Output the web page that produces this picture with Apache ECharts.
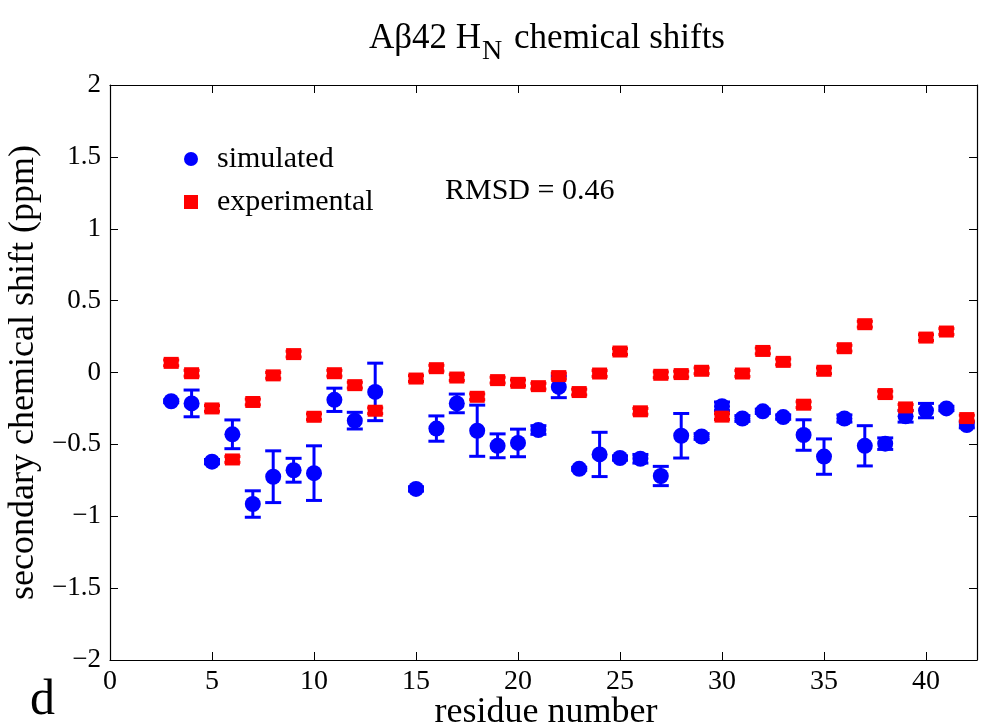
<!DOCTYPE html>
<html>
<head>
<meta charset="utf-8">
<script src="https://cdn.jsdelivr.net/npm/echarts@6/dist/echarts.min.js"></script>
<style>
  html, body { margin: 0; padding: 0; background: #fff; }
  #chart { width: 981px; height: 728px; }
</style>
</head>
<body>
<div id="chart"></div>
<script>
// residues (14 has no data)
const residues = [3,4,5,6,7,8,9,10,11,12,13,15,16,17,18,19,20,21,22,23,24,25,26,27,28,29,30,31,32,33,34,35,36,37,38,39,40,41,42];
const simValues = [-0.20,-0.215,-0.62,-0.43,-0.915,-0.725,-0.68,-0.70,-0.19,-0.335,-0.135,
  -0.81,-0.39,-0.215,-0.405,-0.51,-0.49,-0.40,-0.10,-0.67,-0.57,-0.595,-0.60,-0.72,-0.44,
  -0.445,-0.235,-0.32,-0.27,-0.31,-0.435,-0.585,-0.32,-0.51,-0.495,-0.305,-0.265,-0.25,-0.365];
const simErrors = [0.01,0.093,0.015,0.10,0.092,0.18,0.083,0.19,0.081,0.058,0.20,
  0.015,0.088,0.065,0.178,0.083,0.096,0.03,0.075,0.01,0.154,0.015,0.03,0.067,0.155,
  0.02,0.03,0.02,0.015,0.015,0.106,0.123,0.025,0.14,0.04,0.04,0.05,0.015,0.02];
const expValues = [0.067,-0.005,-0.25,-0.605,-0.205,-0.02,0.128,-0.308,-0.005,-0.088,-0.266,
  -0.042,0.03,-0.035,-0.169,-0.053,-0.072,-0.095,-0.025,-0.136,-0.007,0.146,-0.27,-0.016,-0.011,
  0.012,-0.307,-0.007,0.15,0.074,-0.224,0.012,0.169,0.336,-0.15,-0.243,0.243,0.285,-0.317];
const expErrors = residues.map(() => 0.02);

const xTicks = { min: 0, max: 42.5, interval: 5 };
const yTicks = { min: -2, max: 2, interval: 0.5 };

const FONT = 'Liberation Serif';

const simPoints = residues.map((r, i) => [r, simValues[i]]);
const expPoints = residues.map((r, i) => [r, expValues[i]]);
const simBars = residues.map((r, i) => [r, simValues[i] - simErrors[i], simValues[i] + simErrors[i]]);
const expBars = residues.map((r, i) => [r, expValues[i] - expErrors[i], expValues[i] + expErrors[i]]);

function errorBar(color, capHalf, width) {
  return function (params, api) {
    const x = api.value(0);
    const lo = api.coord([x, api.value(1)]);
    const hi = api.coord([x, api.value(2)]);
    const style = { stroke: color, lineWidth: width };
    return {
      type: 'group',
      children: [
        { type: 'line', shape: { x1: lo[0], y1: lo[1], x2: hi[0], y2: hi[1] }, style },
        { type: 'line', shape: { x1: lo[0] - capHalf, y1: lo[1], x2: lo[0] + capHalf, y2: lo[1] }, style },
        { type: 'line', shape: { x1: hi[0] - capHalf, y1: hi[1], x2: hi[0] + capHalf, y2: hi[1] }, style }
      ]
    };
  };
}

const minus = v => String(v).replace('-', '\u2212');

const axisCommon = {
  axisLine: { show: true, onZero: false, lineStyle: { color: '#000', width: 1.2 } },
  axisTick: { show: true, inside: true, length: 8, lineStyle: { color: '#000' } },
  splitLine: { show: false }
};

const chart = echarts.init(document.getElementById('chart'));
chart.setOption({
  animation: false,
  backgroundColor: '#fff',
  title: {
    text: '{a|A\u03b242 H}{s|N}{a| chemical shifts}',
    left: 364,
    top: 7,
    textStyle: {
      fontWeight: 'normal',
      rich: {
        a: { fontFamily: FONT, fontSize: 35, fontWeight: 'normal', color: '#000', lineHeight: 40 },
        s: { fontFamily: FONT, fontSize: 28, fontWeight: 'normal', color: '#000', padding: [26, 3, 0, 1] }
      }
    }
  },
  grid: { left: 110, right: 4, top: 85, bottom: 68, containLabel: false, outerBoundsMode: 'none' },
  legend: {
    orient: 'vertical',
    left: 179,
    top: 139,
    itemGap: 13,
    itemWidth: 14,
    itemHeight: 14,
    textStyle: { fontFamily: FONT, fontSize: 30, color: '#000', padding: [0, 0, 0, 14], lineHeight: 30 },
    data: [{ name: 'simulated', icon: 'circle' }, { name: 'experimental', icon: 'rect' }]
  },
  xAxis: [
    Object.assign({
      type: 'value', position: 'bottom',
      min: xTicks.min, max: xTicks.max, interval: xTicks.interval,
      axisLabel: { fontFamily: FONT, fontSize: 28, color: '#000', margin: 8, showMaxLabel: false }
    }, axisCommon),
    Object.assign({
      type: 'value', position: 'top',
      min: xTicks.min, max: xTicks.max, interval: xTicks.interval,
      axisLabel: { show: false }
    }, axisCommon)
  ],
  yAxis: [
    Object.assign({
      type: 'value', position: 'left',
      min: yTicks.min, max: yTicks.max, interval: yTicks.interval,
      name: 'secondary chemical shift (ppm)', nameLocation: 'middle', nameGap: 59,
      nameTextStyle: { fontFamily: FONT, fontSize: 36, color: '#000' },
      axisLabel: { fontFamily: FONT, fontSize: 27, color: '#000', margin: 9, formatter: minus }
    }, axisCommon),
    Object.assign({
      type: 'value', position: 'right',
      min: yTicks.min, max: yTicks.max, interval: yTicks.interval,
      axisLabel: { show: false }
    }, axisCommon)
  ],
  graphic: [
    { type: 'text', left: 445, top: 176, style: { text: 'RMSD = 0.46', fontFamily: FONT, fontSize: 30, fill: '#000' } },
    { type: 'text', left: 30, top: 676, style: { text: 'd', fontFamily: FONT, fontSize: 50, fill: '#000' } },
    {
      type: 'text', x: 546, y: 713,
      style: { text: 'residue number', fontFamily: FONT, fontSize: 36, fill: '#000',
               align: 'center', verticalAlign: 'middle', textAlign: 'center', textVerticalAlign: 'middle' }
    }
  ],
  series: [
    {
      type: 'custom', name: 'simErr', renderItem: errorBar('#0000ff', 8, 3),
      encode: { x: 0, y: [1, 2] }, data: simBars, z: 2, silent: true
    },
    {
      type: 'scatter', name: 'simulated', data: simPoints, symbol: 'circle', symbolSize: 16,
      itemStyle: { color: '#0000ff', opacity: 1 }, z: 3
    },
    {
      type: 'custom', name: 'expErr', renderItem: errorBar('#ff0000', 8, 3),
      encode: { x: 0, y: [1, 2] }, data: expBars, z: 4, silent: true
    },
    {
      type: 'scatter', name: 'experimental', data: expPoints, symbol: 'rect', symbolSize: [15, 12],
      itemStyle: { color: '#ff0000', opacity: 1 }, z: 5
    }
  ]
});
</script>
</body>
</html>
